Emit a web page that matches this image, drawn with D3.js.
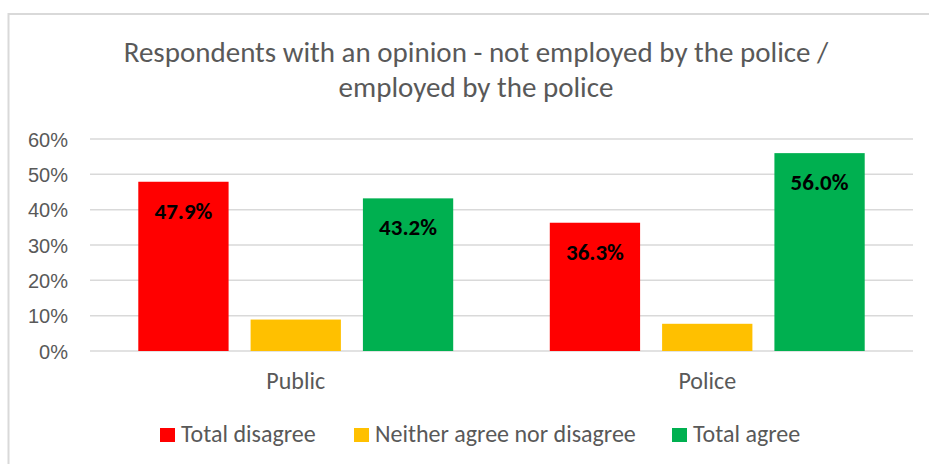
<!DOCTYPE html>
<html>
<head>
<meta charset="utf-8">
<script src="https://cdn.jsdelivr.net/npm/d3@7"></script>
<style>
  body { margin: 0; background: #fff; }
  svg { display: block; font-family: Carlito, "Liberation Sans Narrow", "DejaVu Sans Condensed", sans-serif; }
</style>
</head>
<body>
<div id="chart"></div>
<script>
// Respondents with an opinion, grouped bars
const groups = ['Public', 'Police'];
const seriesNames = ['Total disagree', 'Neither agree nor disagree', 'Total agree'];
const seriesColors = ['#ff0000', '#ffc000', '#00b050'];
const publicValues = [47.9, 8.9, 43.2];
const policeValues = [36.3, 7.7, 56.0];
const labelShown = [true, false, true];
const yTicks = [0, 10, 20, 30, 40, 50, 60];

const W = 929, H = 464;
const margin = { left: 90, right: 16, top: 139, bottom: 113 };

const svg = d3.select('#chart').append('svg')
    .attr('width', W)
    .attr('height', H);

// chart border
svg.append('rect')
    .attr('x', 8.5).attr('y', 14)
    .attr('width', W + 10).attr('height', H + 10)
    .attr('fill', 'none')
    .attr('stroke', '#d9d9d9')
    .attr('stroke-width', 2);

// title
const title = svg.append('text')
    .attr('text-anchor', 'middle')
    .attr('fill', '#595959')
    .attr('font-size', 29);
title.append('tspan').attr('x', 476).attr('y', 62).text('Respondents with an opinion - not employed by the police /');
title.append('tspan').attr('x', 476).attr('y', 97).text('employed by the police');

const x0 = d3.scaleBand()
    .domain(groups)
    .range([margin.left, W - margin.right]);

const x1 = d3.scaleBand()
    .domain(seriesNames)
    .range([0, x0.bandwidth()])
    .paddingInner(0.196)
    .paddingOuter(0.43);

const y = d3.scaleLinear()
    .domain([0, 60])
    .range([H - margin.bottom, margin.top]);

// gridlines
svg.append('g')
    .selectAll('line')
    .data(yTicks)
    .join('line')
    .attr('x1', margin.left)
    .attr('x2', W - margin.right)
    .attr('y1', d => y(d))
    .attr('y2', d => y(d))
    .attr('stroke', '#d9d9d9')
    .attr('stroke-width', 1.5);

// y axis labels
const yAxis = svg.append('g')
    .attr('transform', `translate(${margin.left - 22},0)`)
    .call(d3.axisLeft(y).tickValues(yTicks).tickFormat(d => d + '%').tickSize(0).tickPadding(0));
yAxis.select('.domain').remove();
yAxis.selectAll('text')
    .attr('font-family', null)
    .attr('font-size', 20)
    .attr('fill', '#595959')
    .attr('dy', '0.35em');

const data = groups.map((g, gi) => ({
    group: g,
    values: (gi === 0 ? publicValues : policeValues).map((v, i) => ({ name: seriesNames[i], value: v, i }))
}));

const gGroups = svg.append('g')
    .selectAll('g')
    .data(data)
    .join('g')
    .attr('transform', d => `translate(${x0(d.group)},0)`);

gGroups.selectAll('rect')
    .data(d => d.values)
    .join('rect')
    .attr('x', d => x1(d.name))
    .attr('width', x1.bandwidth())
    .attr('y', d => y(d.value))
    .attr('height', d => y(0) - y(d.value))
    .attr('fill', d => seriesColors[d.i]);

gGroups.selectAll('text.lbl')
    .data(d => d.values.filter(v => labelShown[v.i]))
    .join('text')
    .attr('class', 'lbl')
    .attr('x', d => x1(d.name) + x1.bandwidth() / 2)
    .attr('y', d => y(d.value) + 37)
    .attr('text-anchor', 'middle')
    .attr('font-size', 23)
    .attr('font-weight', 'bold')
    .attr('fill', '#000')
    .text(d => d.value.toFixed(1) + '%');

// category labels
svg.append('g')
    .selectAll('text')
    .data(groups)
    .join('text')
    .attr('x', d => x0(d) + x0.bandwidth() / 2)
    .attr('y', 389)
    .attr('text-anchor', 'middle')
    .attr('font-size', 24)
    .attr('fill', '#595959')
    .text(d => d);

// legend
const legendX = [160, 354, 672];
const legend = svg.append('g')
    .selectAll('g')
    .data(seriesNames)
    .join('g')
    .attr('transform', (d, i) => `translate(${legendX[i]},428)`);
legend.append('rect')
    .attr('width', 15).attr('height', 14)
    .attr('fill', (d, i) => seriesColors[i]);
legend.append('text')
    .attr('x', 21)
    .attr('y', 14)
    .attr('font-size', 24)
    .attr('fill', '#595959')
    .text(d => d);
</script>
</body>
</html>
